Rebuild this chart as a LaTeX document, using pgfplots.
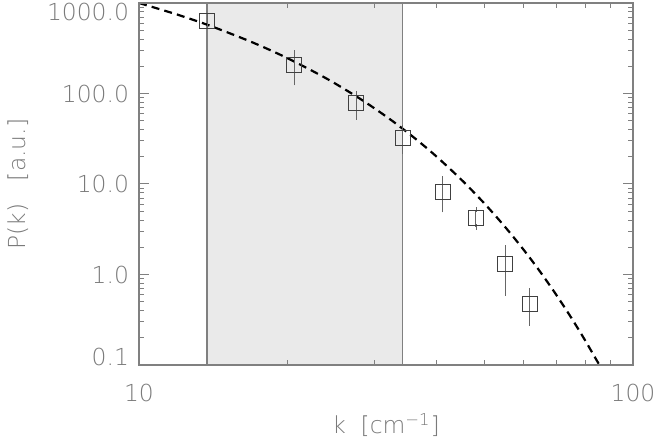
\documentclass[border=0pt]{standalone}
\usepackage{pgfplots}
\pgfplotsset{compat=1.18}
\usepackage{fontspec}
\setmainfont{DejaVu Sans ExtraLight}
\definecolor{axgray}{HTML}{808080}
\definecolor{txtgray}{HTML}{7A7A7A}
\definecolor{bandgray}{HTML}{EAEAEA}
\begin{document}
\begin{tikzpicture}
\begin{axis}[
 scale only axis, width=247pt, height=181pt,
 xmode=log, ymode=log, xmin=10, xmax=100, ymin=0.1, ymax=1000,
 xtick={10,100}, xticklabels={10,100},
 ytick={0.1,1,10,100,1000},
 yticklabels={{\raisebox{0pt}[0pt][0pt]{0.1}},1.0,10.0,100.0,{\raisebox{-8.6pt}[0pt][0pt]{1000.0}}},
 axis line style={axgray, line width=0.6pt},
 every tick/.style={axgray, line width=0.5pt},
 major tick length=5pt, minor tick length=2.5pt,
 tick align=inside,
 tick label style={font=\fontsize{11.7}{13}\selectfont, text=txtgray},
 xticklabel style={yshift=-6pt},
 yticklabel style={xshift=-1.5pt},
 label style={font=\fontsize{11.7}{13}\selectfont, text=txtgray},
 xlabel={k\ \ [cm\textsuperscript{−1}]},
 ylabel={P(k)\ \ \ [a.u.]},
 xlabel style={at={(axis description cs:0.5,-0.166)}, anchor=center},
 ylabel style={at={(axis description cs:-0.245,0.5)}, anchor=center},
 axis on top,
]
\addplot[fill=bandgray, draw=none] coordinates {(13.73,0.1) (34.2,0.1) (34.2,1000) (13.73,1000)} -- cycle;
\addplot[axgray, line width=0.6pt] coordinates {(13.73,0.1) (13.73,1000)};
\addplot[axgray, line width=0.6pt] coordinates {(34.2,0.1) (34.2,1000)};
\addplot[black, line width=1.1pt, dash pattern=on 4pt off 2.6pt, smooth] coordinates {
(10,1000) (12,739.8) (14,554.3) (17,365.7) (20,244.8) (24,145.7) (28,87.7) (32,53.4) (36,32.7) (40,20.15) (45,11.07) (50,6.11) (55,3.39) (60,1.89) (65,1.057) (70,0.592) (75,0.333) (80,0.187) (85.5,0.1)};
\addplot[only marks, mark=square, mark size=3.75pt, mark options={draw=black!75, line width=0.6pt},
 error bars/.cd, y dir=both, y explicit,
 error bar style={black!60, line width=0.5pt},
 error mark options={black!60, mark size=1.3pt}]
 coordinates {
 (13.73,632) += (0,86) -= (0,61)
 (20.6,206) += (0,74) -= (0,75)
 (27.5,78.5) += (0,21.5) -= (0,23.5)
 (34.2,32.2) += (0,9.4) -= (0,9)
 (41.2,8.2) += (0,3.2) -= (0,3.0)
 (48.1,4.2) += (0,1.0) -= (0,0.85)
 (55.1,1.31) += (0,0.65) -= (0,0.685)
 (61.8,0.472) += (0,0.188) -= (0,0.182)
 };
\end{axis}
\pgfresetboundingbox
\path ([xshift=-69.5pt,yshift=-37pt]current axis.south west) rectangle ([xshift=10.5pt,yshift=1.5pt]current axis.north east);
\end{tikzpicture}
\end{document}
